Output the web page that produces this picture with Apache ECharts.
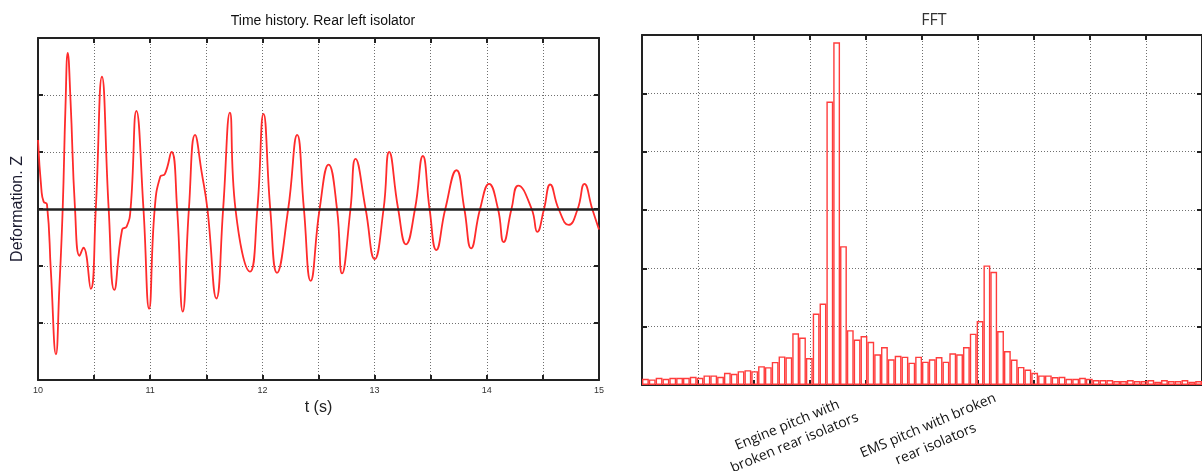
<!DOCTYPE html>
<html>
<head>
<meta charset="utf-8">
<title>Time history / FFT</title>
<script src="https://cdn.jsdelivr.net/npm/echarts@6/dist/echarts.min.js"></script>
<style>
    html, body { margin: 0; padding: 0; background: #fff; }
    #main { width: 1202px; height: 471px; }
</style>
</head>
<body>
<div id="main"></div>
<script>
// time history: t (s) and deformation Z
var timeS = [10.00, 10.03, 10.05, 10.08, 10.115, 10.16, 10.19, 10.22, 10.245, 10.265, 10.29, 10.33,
    10.37, 10.405, 10.47, 10.515, 10.57, 10.63, 10.68, 10.75, 10.79, 10.825, 10.877, 10.94,
    10.99, 11.04, 11.09, 11.13, 11.19, 11.24, 11.29, 11.345, 11.40, 11.46, 11.51, 11.59,
    11.65, 11.71, 11.76, 11.89, 11.955, 12.01, 12.07, 12.13, 12.23, 12.31, 12.37, 12.43,
    12.51, 12.59, 12.665, 12.71, 12.785, 12.83, 12.92, 13.00, 13.08, 13.13, 13.21, 13.28,
    13.36, 13.43, 13.49, 13.55, 13.63, 13.73, 13.80, 13.86, 13.94, 14.02, 14.10, 14.15,
    14.22, 14.28, 14.40, 14.45, 14.51, 14.565, 14.64, 14.73, 14.81, 14.87, 14.94, 15.00];
var deformZ = [1.21, 0.35, 0.13, 0.08, -1.1, -2.55, -1.4, 0, 1.8, 2.74, 1.9, 0,
    -0.82, -0.68, -1.4, 0, 2.32, 0, -1.42, -0.36, -0.31, 0, 1.72, 0,
    -1.75, 0, 0.57, 0.61, 1.0, 0, -1.8, 0, 1.30, 0.63, 0, -1.57,
    0, 1.69, 0, -1.10, 0, 1.67, 0, -1.12, 0, 1.30, 0, -1.26,
    0, 0.78, 0, -1.13, 0, 0.88, 0, -0.88, 0, 1.0, 0, -0.62,
    0, 0.93, 0, -0.72, 0, 0.68, 0, -0.69, 0, 0.44, 0, -0.58,
    0, 0.41, 0, -0.40, 0, 0.43, 0, -0.28, 0, 0.44, 0, -0.36];

// FFT bin amplitudes (82 bins)
var fftBins = [];
var fftAmp = [0.107, 0.096, 0.124, 0.107, 0.124, 0.124, 0.124, 0.141, 0.124, 0.164, 0.164, 0.141,
    0.209, 0.192, 0.237, 0.254, 0.237, 0.322, 0.305, 0.395, 0.49, 0.475, 0.887, 0.814,
    0.463, 1.226, 1.395, 4.86, 5.875, 2.38, 0.94, 0.78, 0.84, 0.74, 0.526, 0.65,
    0.44, 0.50, 0.486, 0.383, 0.486, 0.40, 0.44, 0.48, 0.40, 0.543, 0.526, 0.65,
    0.88, 1.097, 2.05, 1.94, 0.926, 0.583, 0.435, 0.31, 0.265, 0.21, 0.164, 0.164,
    0.136, 0.141, 0.107, 0.107, 0.124, 0.107, 0.085, 0.085, 0.085, 0.068, 0.068, 0.085,
    0.068, 0.068, 0.085, 0.056, 0.085, 0.068, 0.068, 0.085, 0.056, 0.068];
for (var i = 0; i < fftAmp.length; i++) {
    fftBins.push(i + 1);
}

var frameColor = '#222';
var dotted = { show: true, lineStyle: { color: '#6f6f6f', width: 1, type: [1, 2] } };

// axis with inner ticks, used for all four sides of both frames
function frameAxis(gridIndex, position, min, max, interval, split) {
    return {
        type: 'value',
        gridIndex: gridIndex,
        position: position,
        min: min,
        max: max,
        interval: interval,
        axisLine: { show: true, onZero: false, lineStyle: { color: frameColor, width: 2 } },
        axisTick: { show: true, inside: true, length: 5, lineStyle: { color: frameColor, width: 2 } },
        axisLabel: { show: false },
        splitLine: split ? dotted : { show: false }
    };
}

var xTime = frameAxis(0, 'bottom', 10, 15, 0.5, true);
xTime.axisLabel = {
    show: true, fontSize: 9, color: '#333', margin: 6, fontFamily: 'Liberation Sans',
    formatter: function (v) { return v % 1 === 0 ? v : ''; }
};
xTime.name = 't (s)';
xTime.nameLocation = 'middle';
xTime.nameGap = 20;
xTime.nameTextStyle = { fontSize: 16, color: '#222', fontFamily: 'Liberation Sans' };

var yDeform = frameAxis(0, 'left', -3, 3, 1, true);
yDeform.name = 'Deformation. Z';
yDeform.nameLocation = 'middle';
yDeform.nameRotate = 90;
yDeform.nameGap = 12;
yDeform.nameTextStyle = { fontSize: 16, color: '#1c1c30', fontFamily: 'Liberation Sans' };

var lineData = timeS.map(function (t, k) { return [t, deformZ[k]]; });

var option = {
    backgroundColor: '#fff',
    animation: false,
    title: [{
        text: 'Time history. Rear left isolator',
        left: 318, top: 9, textAlign: 'center',
        textStyle: { fontSize: 14, fontWeight: 'normal', color: '#111', fontFamily: 'Liberation Sans' }
    }, {
        text: 'FFT',
        left: 929, top: 7, textAlign: 'center',
        textStyle: { fontSize: 16, fontWeight: 'normal', color: '#333', fontFamily: 'Open Sans' }
    }],
    grid: [
        { left: 38, top: 38, right: 603, bottom: 91 },
        { left: 642, top: 35, right: -2, bottom: 86 }
    ],
    xAxis: [
        xTime,
        frameAxis(0, 'top', 10, 15, 0.5, false),
        {
            type: 'category', gridIndex: 1, data: fftBins, boundaryGap: true,
            axisLine: { show: false }, axisTick: { show: false }, axisLabel: { show: false }
        },
        frameAxis(1, 'bottom', 0, 10, 1, true),
        frameAxis(1, 'top', 0, 10, 1, false)
    ],
    yAxis: [
        yDeform,
        frameAxis(0, 'right', -3, 3, 1, false),
        frameAxis(1, 'left', 0, 6, 1, true),
        frameAxis(1, 'right', 0, 6, 1, false)
    ],
    series: [{
        type: 'line',
        xAxisIndex: 0,
        yAxisIndex: 0,
        data: lineData,
        smooth: 0.5,
        showSymbol: false,
        lineStyle: { color: '#ff2b2b', width: 1.8 },
        markLine: {
            silent: true,
            symbol: 'none',
            label: { show: false },
            lineStyle: { color: frameColor, width: 2.5, type: 'solid' },
            data: [{ yAxis: 0 }]
        }
    }, {
        type: 'bar',
        xAxisIndex: 2,
        yAxisIndex: 2,
        data: fftAmp,
        barCategoryGap: '0%',
        itemStyle: { color: 'rgba(255,255,255,0)', borderColor: '#ff3c3c', borderWidth: 1.4 }
    }],
    graphic: [{
        type: 'text', x: 791, y: 434, rotation: 0.39,
        style: {
            text: 'Engine pitch with\nbroken rear isolators',
            align: 'center', verticalAlign: 'middle', lineHeight: 19,
            fontSize: 14, fontFamily: 'Open Sans', fill: '#111'
        }
    }, {
        type: 'text', x: 932, y: 435, rotation: 0.4,
        style: {
            text: 'EMS pitch with broken\nrear isolators',
            align: 'center', verticalAlign: 'middle', lineHeight: 20,
            fontSize: 14, fontFamily: 'Open Sans', fill: '#111'
        }
    }]
};

var chart = echarts.init(document.getElementById('main'));
chart.setOption(option, true);
</script>
</body>
</html>
